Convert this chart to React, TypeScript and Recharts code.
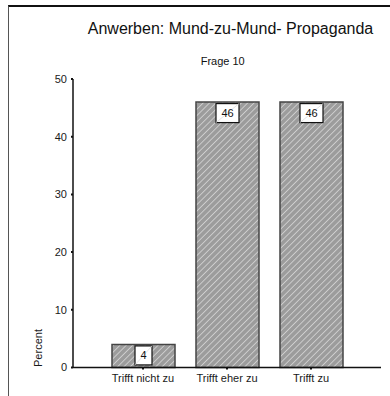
import { BarChart, Bar, XAxis, YAxis, LabelList } from "recharts";

const categories = ["Trifft nicht zu", "Trifft eher zu", "Trifft zu"];
const percents = [4, 46, 46];
const yTicks = [0, 10, 20, 30, 40, 50];

const data = categories.map((name, i) => ({ name, value: percents[i] }));

const font = "'Liberation Sans', Arial, sans-serif";

// weißes Kästchen mit dem Wert, oben in den Balken gesetzt
const ValueBox = (props: any) => {
    const { x, y, width, value } = props;
    const label = String(value);
    const w = label.length * 6 + 11;
    const h = 19;
    const cx = x + width / 2;
    const top = y + 1.5;
    return (
        <g>
            <rect x={cx - w / 2} y={top} width={w} height={h} fill="#fff" stroke="#111" strokeWidth={1.2} />
            <line x1={cx - w / 2} y1={top + h} x2={cx + w / 2} y2={top} stroke="#ddd" strokeWidth={0.8} />
            <text x={cx} y={top + 13.5} textAnchor="middle" fontSize={11} fontFamily={font} fill="#111">
                {label}
            </text>
        </g>
    );
};

export default function App() {
    return (
        <div style={{ position: "absolute", left: 0, top: 0, width: 390, height: 396, background: "#fff", fontFamily: font }}>
            <div
                style={{
                    position: "absolute",
                    left: 8,
                    top: 5,
                    width: 382,
                    height: 391,
                    borderTop: "2px solid #111",
                    borderLeft: "1px solid #555",
                }}
            />
            <BarChart
                width={390}
                height={396}
                data={data}
                margin={{ top: 79, right: 9, left: 0, bottom: 0 }}
                style={{ position: "absolute", left: 0, top: 0 }}
            >
                <defs>
                    <pattern id="hatch" width="4.5" height="4.5" patternUnits="userSpaceOnUse" patternTransform="rotate(45)">
                        <rect width="4.5" height="4.5" fill="#9c9c9c" />
                        <line x1="0" y1="0" x2="0" y2="4.5" stroke="#dadada" strokeWidth="1.5" />
                    </pattern>
                </defs>
                <XAxis
                    dataKey="name"
                    height={28.5}
                    padding={{ left: 28, right: 28 }}
                    tick={{ fontSize: 11, fill: "#1a1a1a", fontFamily: font }}
                    tickSize={2}
                    tickMargin={5}
                    axisLine={{ stroke: "#111", strokeWidth: 1.5 }}
                    tickLine={{ stroke: "#111", strokeWidth: 2 }}
                />
                <XAxis xAxisId="top" orientation="top" dataKey="name" height={0} tick={false} tickLine={false} axisLine={{ stroke: "#555", strokeWidth: 1.5 }} />
                <YAxis
                    width={73}
                    domain={[0, 50]}
                    ticks={yTicks}
                    interval={0}
                    tick={{ fontSize: 11, fill: "#1a1a1a", fontFamily: font }}
                    tickSize={2}
                    tickMargin={4}
                    axisLine={{ stroke: "#111", strokeWidth: 1.5 }}
                    tickLine={{ stroke: "#111", strokeWidth: 2 }}
                    label={() => (
                        <text x={42} y={348} transform="rotate(-90 42 348)" textAnchor="middle" fontSize={11} fontFamily={font} fill="#1a1a1a">
                            Percent
                        </text>
                    )}
                />
                <YAxis yAxisId="right" orientation="right" width={0} domain={[0, 50]} tick={false} tickLine={false} axisLine={{ stroke: "#555", strokeWidth: 1.5 }} />
                <Bar dataKey="value" barSize={63} fill="url(#hatch)" stroke="#444" strokeWidth={1.5} isAnimationActive={false}>
                    <LabelList dataKey="value" content={ValueBox} />
                </Bar>
            </BarChart>
            <svg width={390} height={396} style={{ position: "absolute", left: 0, top: 0, pointerEvents: "none" }}>
                <text x={230.5} y={33.7} textAnchor="middle" fontSize={16} fontFamily={font} fill="#111">
                    Anwerben: Mund-zu-Mund- Propaganda
                </text>
                <text x={222.7} y={64.5} textAnchor="middle" fontSize={11} fontFamily={font} fill="#111">
                    Frage 10
                </text>
            </svg>
        </div>
    );
}
